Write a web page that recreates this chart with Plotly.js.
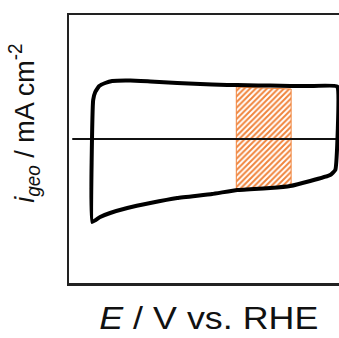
<!DOCTYPE html>
<html>
<head>
<meta charset="utf-8">
<script src="https://cdn.plot.ly/plotly-3.0.1.min.js"></script>
<style>html,body{margin:0;padding:0;background:#fff;}#chart{width:339px;height:338px;}</style>
</head>
<body>
<div id="chart"></div>
<script>
// Cyclic voltammogram (E in V vs. RHE, i in mA cm^-2)
const cvE = [0.100, 0.104, 0.113, 0.130, 0.156, 0.186, 0.264, 0.350, 0.466, 0.565, 0.616, 0.681, 0.724, 0.814, 0.866, 0.952, 1.038, 1.154, 1.146, 1.124, 1.038, 0.952, 0.866, 0.724, 0.616, 0.466, 0.350, 0.251, 0.177, 0.134, 0.100];
const cvI = [-0.166, 0.078, 0.094, 0.106, 0.112, 0.116, 0.117, 0.115, 0.112, 0.110, 0.109, 0.108, 0.108, 0.107, 0.107, 0.106, 0.106, 0.105, -0.062, -0.072, -0.084, -0.094, -0.098, -0.102, -0.110, -0.118, -0.128, -0.138, -0.148, -0.156, -0.166];
// zero-current line
const zeroE = [0.014, 1.162];
const zeroI = [0, 0];
// hatched integration region
const regionE = [0.720, 0.956, 0.956, 0.720, 0.720];
const regionI = [0.104, 0.100, -0.096, -0.100, 0.104];
// axis titles
const xTitle = '<i>E</i> / V vs. RHE';
const yTitle = '<i>i</i><sub><i>geo</i></sub> / mA cm<sup>-2</sup>';

const orange = '#f0843c';
const traces = [
  {x: regionE, y: regionI, mode: 'lines', fill: 'toself', fillcolor: 'rgba(0,0,0,0)',
   fillpattern: {shape: '/', fgcolor: orange, bgcolor: 'rgba(255,255,255,0)', size: 4, solidity: 0.5},
   line: {color: orange, width: 1}, hoverinfo: 'skip', showlegend: false},
  {x: zeroE, y: zeroI, mode: 'lines', line: {color: '#111', width: 2}, showlegend: false},
  {x: cvE, y: cvI, mode: 'lines', line: {color: '#000', width: 4, shape: 'spline', smoothing: 0.3}, showlegend: false}
];
const layout = {
  width: 339, height: 338,
  margin: {l: 69, r: 0, t: 15, b: 55},
  paper_bgcolor: '#fff', plot_bgcolor: '#fff',
  font: {family: 'Liberation Sans, Arial, sans-serif', color: '#111'},
  xaxis: {range: [0, 1.162], showline: true, mirror: true, linecolor: '#222', linewidth: 2.5,
          showgrid: false, zeroline: false, showticklabels: false, ticks: ''},
  yaxis: {range: [-0.288, 0.248], showline: true, mirror: false, linecolor: '#222', linewidth: 2.5,
          showgrid: false, zeroline: false, showticklabels: false, ticks: ''},
  annotations: [
    {text: xTitle, xref: 'paper', yref: 'paper', x: 0.52, y: -0.13,
     xanchor: 'center', yanchor: 'middle', showarrow: false, font: {size: 32, color: '#111'}},
    {text: yTitle, xref: 'paper', yref: 'paper', x: -0.165, y: 0.596,
     xanchor: 'center', yanchor: 'middle', textangle: -90, showarrow: false, font: {size: 27, color: '#111'}}
  ]
};
Plotly.newPlot('chart', traces, layout, {staticPlot: true, displayModeBar: false}).then(function (gd) {
  // the reference image is stretched horizontally; widen the title text to match
  const scales = [1.12, 1.05];
  const svg = gd.querySelector('.main-svg');
  const sr = svg.getBoundingClientRect();
  gd.querySelectorAll('g.annotation').forEach(function (g, k) {
    const r = g.getBoundingClientRect();
    const cx = r.left - sr.left + r.width / 2;
    const sx = scales[k] || 1;
    const prev = g.getAttribute('transform') || '';
    g.setAttribute('transform', 'translate(' + cx + ',0) scale(' + sx + ',1) translate(' + (-cx) + ',0) ' + prev);
  });
});
</script>
</body>
</html>
